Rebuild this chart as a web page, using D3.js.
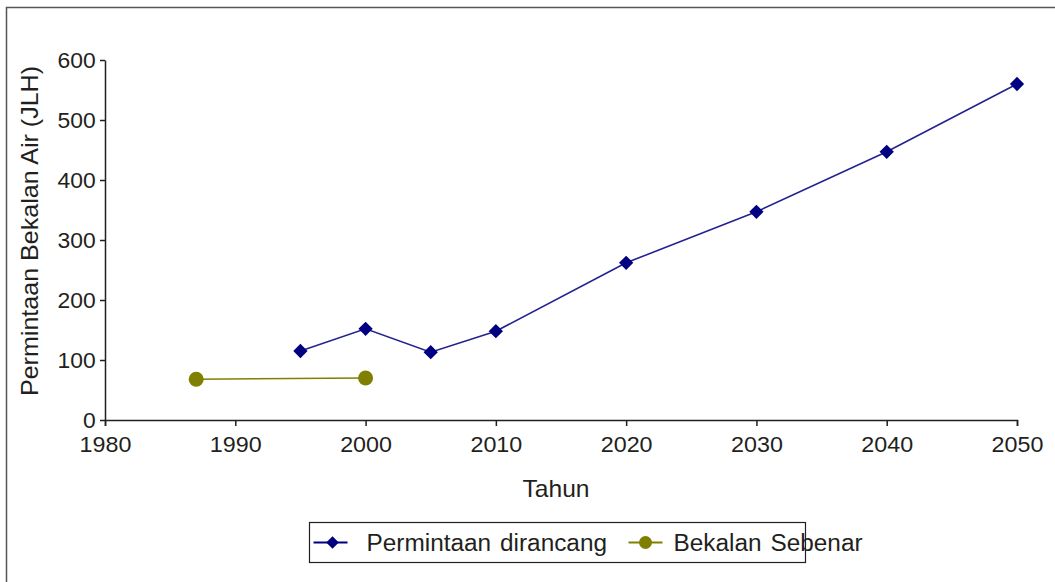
<!DOCTYPE html>
<html>
<head>
<meta charset="utf-8">
<script src="https://cdn.jsdelivr.net/npm/d3@7"></script>
<style>
  body { margin: 0; background: #fff; }
  text { font-family: "Liberation Sans", Arial, sans-serif; fill: #231f20; }
  .axis path, .axis line { stroke: #231f20; stroke-width: 1.5; }
</style>
</head>
<body>
<div class="wrapper"></div>
<script>
// chart data
var demandYears = [1995, 2000, 2005, 2010, 2020, 2030, 2040, 2050];
var demandValues = [115, 152, 113, 148, 262, 347, 447, 560];
var supplyYears = [1987, 2000];
var supplyValues = [68, 70];
var xTicks = [1980, 1990, 2000, 2010, 2020, 2030, 2040, 2050];
var yTicks = [0, 100, 200, 300, 400, 500, 600];
var seriesNames = ["Permintaan dirancang", "Bekalan Sebenar"];

var W = 1055, H = 582;
var margin = { top: 60, right: 38, bottom: 162, left: 105 },
  width = W - margin.left - margin.right,
  height = H - margin.top - margin.bottom;

var root = d3.select(".wrapper")
  .append("svg")
  .attr("width", W)
  .attr("height", H);

// outer frame (right/bottom edges fall outside the picture)
root.append("rect")
  .attr("x", 6.5).attr("y", 7.5)
  .attr("width", W + 20).attr("height", H + 20)
  .attr("fill", "none")
  .attr("stroke", "#555")
  .attr("stroke-width", 1.5);

var svg = root.append("g")
  .attr("transform", "translate(" + margin.left + "," + margin.top + ")");

var x = d3.scaleLinear().domain([1980, 2050]).range([0, width]);
var y = d3.scaleLinear().domain([0, 600]).range([height, 0]);

// axes
svg.append("g")
  .attr("class", "axis")
  .attr("transform", "translate(0," + height + ")")
  .call(d3.axisBottom(x).tickValues(xTicks).tickFormat(d3.format("d")).tickSizeInner(6).tickSizeOuter(6).tickPadding(10))
  .call(function(g) {
    g.selectAll("text").style("font-size", "22px").attr("fill", "#231f20")
      .attr("transform", "scale(1.06,1)");
  });

svg.append("g")
  .attr("class", "axis")
  .call(d3.axisLeft(y).tickValues(yTicks).tickSizeInner(5).tickSizeOuter(0).tickPadding(4))
  .call(function(g) {
    g.selectAll("text").style("font-size", "22px").attr("fill", "#231f20")
      .attr("transform", "scale(1.04,1)");
  });

// axis titles
root.append("text")
  .attr("transform", "translate(556,497) scale(1.07,1)")
  .attr("text-anchor", "middle")
  .style("font-size", "23px")
  .text("Tahun");

root.append("text")
  .attr("transform", "translate(38,231) rotate(-90) scale(1.09,1)")
  .attr("text-anchor", "middle")
  .style("font-size", "23px")
  .text("Permintaan Bekalan Air (JLH)");

// series
var line = d3.line()
  .x(function(d) { return x(d[0]); })
  .y(function(d) { return y(d[1]); });

var demand = d3.zip(demandYears, demandValues);
var supply = d3.zip(supplyYears, supplyValues);

svg.append("path")
  .datum(supply)
  .attr("fill", "none")
  .attr("stroke", "#808000")
  .attr("stroke-width", 1.6)
  .attr("d", line);

svg.selectAll(".supplyDot")
  .data(supply)
  .enter()
  .append("circle")
  .attr("cx", function(d) { return x(d[0]); })
  .attr("cy", function(d) { return y(d[1]); })
  .attr("r", 7.5)
  .attr("fill", "#808000");

svg.append("path")
  .datum(demand)
  .attr("fill", "none")
  .attr("stroke", "#23238f")
  .attr("stroke-width", 1.6)
  .attr("d", line);

var diamond = d3.symbol().type(d3.symbolDiamond2).size(130);

svg.selectAll(".demandDot")
  .data(demand)
  .enter()
  .append("path")
  .attr("transform", function(d) { return "translate(" + x(d[0]) + "," + y(d[1]) + ")"; })
  .attr("d", diamond)
  .attr("fill", "#000080");

// legend
var legend = root.append("g").attr("transform", "translate(309.5,522.5)");
legend.append("rect")
  .attr("width", 496).attr("height", 40)
  .attr("fill", "#fff")
  .attr("stroke", "#231f20")
  .attr("stroke-width", 1.2);

var items = [
  { name: seriesNames[0], color: "#000080", kind: "diamond", x: 4, tx: 57 },
  { name: seriesNames[1], color: "#808000", kind: "circle", x: 319, tx: 364 }
];
items.forEach(function(it) {
  var g = legend.append("g").attr("transform", "translate(" + it.x + ",20)");
  g.append("line").attr("x1", 0).attr("x2", 34)
    .attr("stroke", it.color).attr("stroke-width", 2);
  if (it.kind === "diamond") {
    g.append("path").attr("transform", "translate(19,0)")
      .attr("d", d3.symbol().type(d3.symbolDiamond2).size(100)).attr("fill", it.color);
  } else {
    g.append("circle").attr("cx", 17).attr("r", 6.5).attr("fill", it.color);
  }
  legend.append("text")
    .attr("transform", "translate(" + it.tx + ",28) scale(1.06,1)")
    .style("font-size", "23px")
    .style("word-spacing", "2px")
    .text(it.name);
});
</script>
</body>
</html>
